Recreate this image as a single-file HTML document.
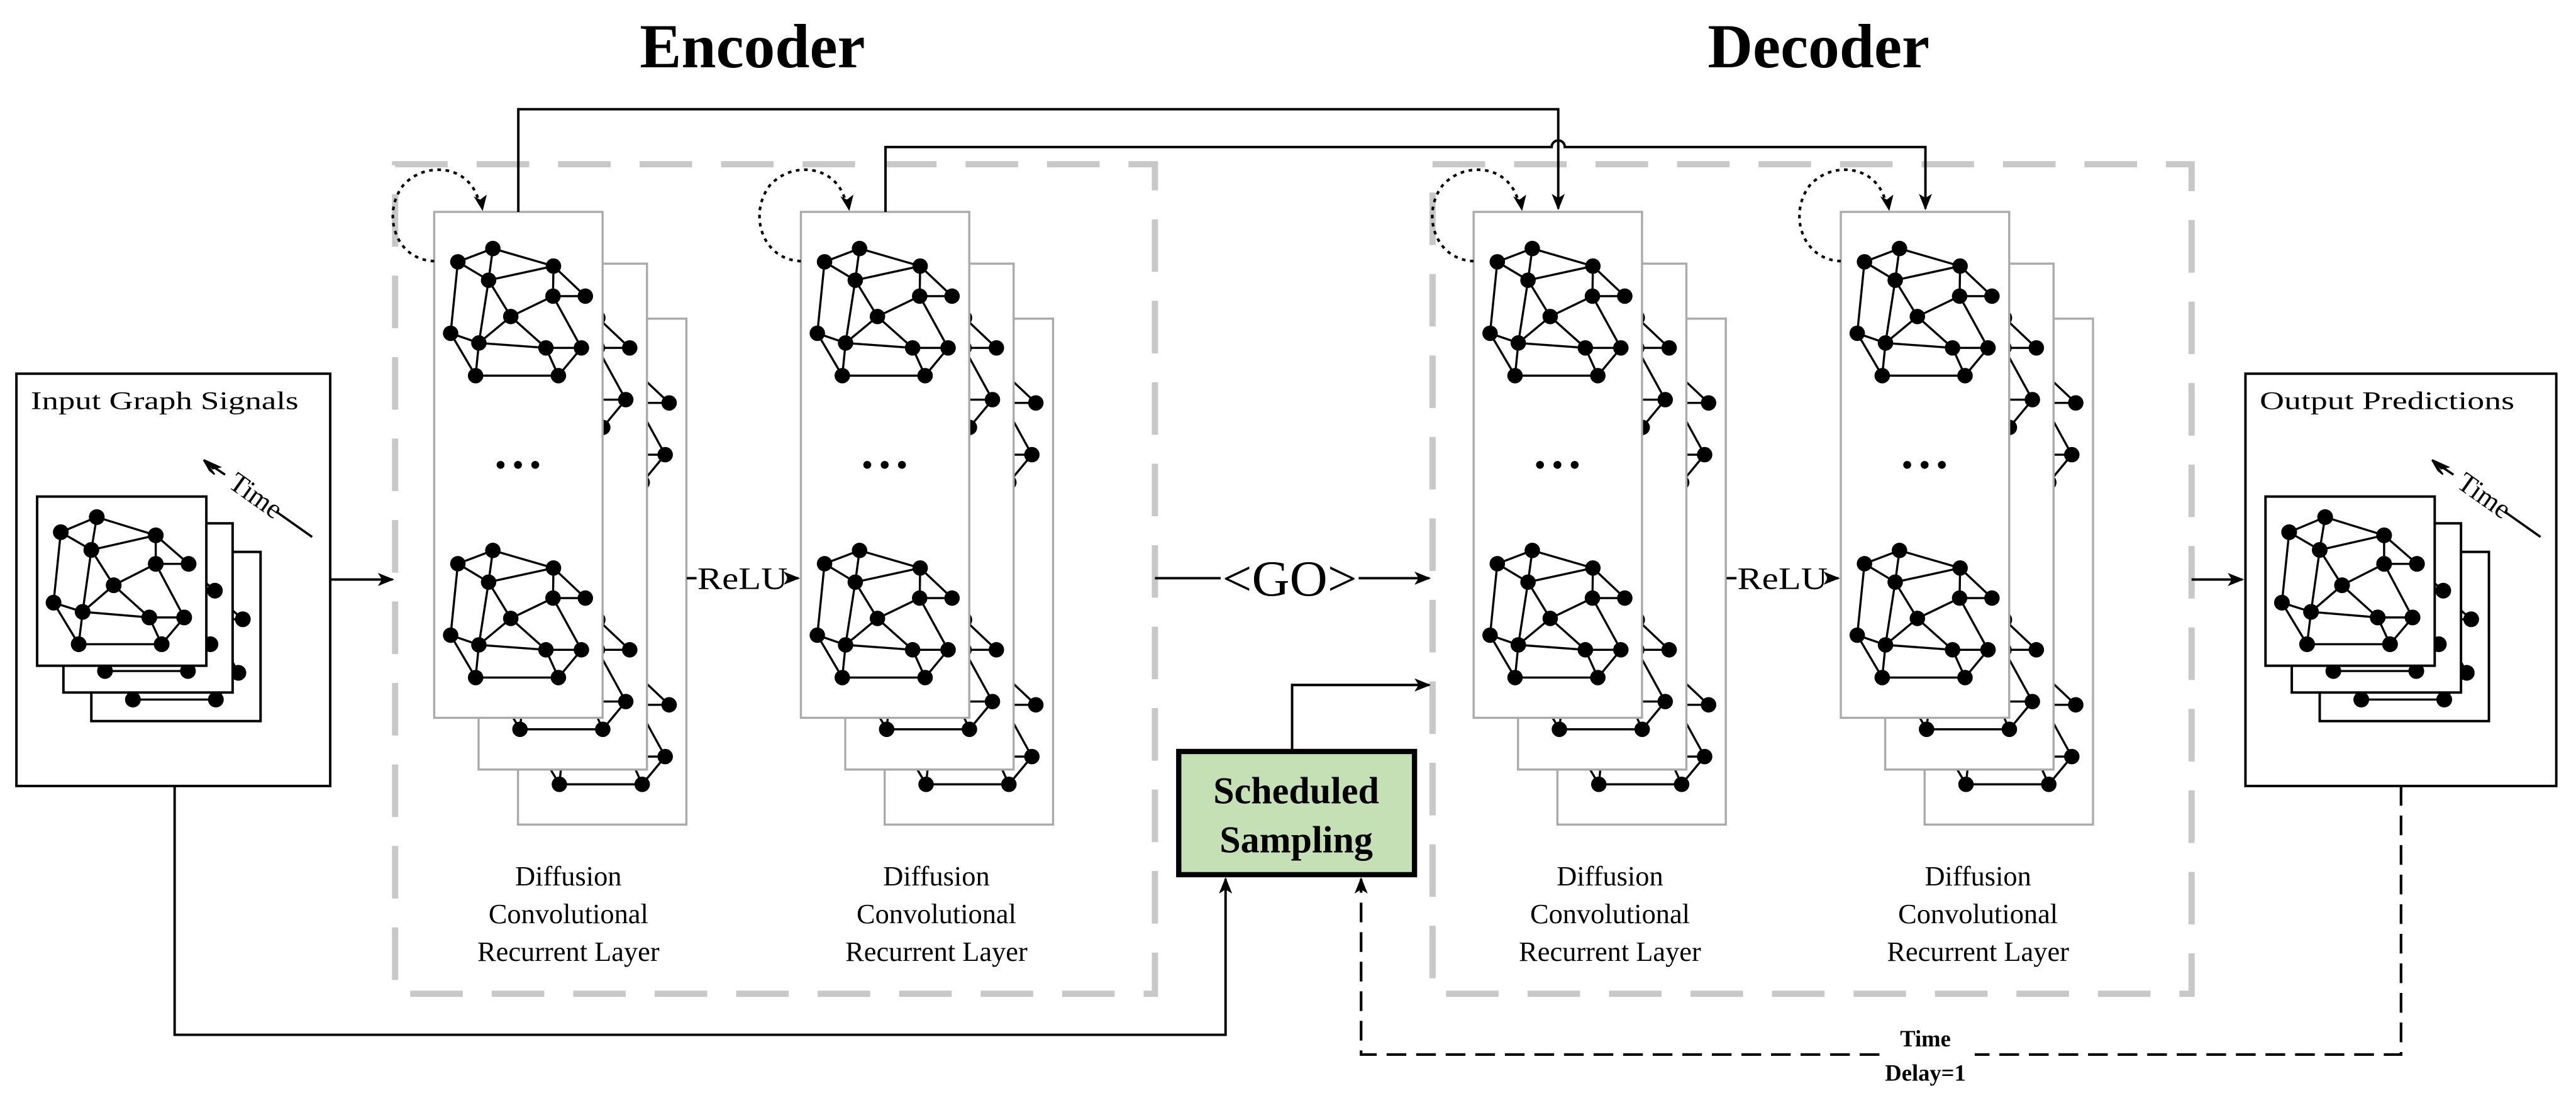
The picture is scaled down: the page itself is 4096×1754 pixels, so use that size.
<!DOCTYPE html>
<html><head><meta charset="utf-8"><style>
html,body{margin:0;padding:0;background:#fff;}
svg{display:block;}
text{font-family:"Liberation Serif",serif;fill:#000;}
</style></head><body>
<svg width="4096" height="1754" viewBox="0 0 1568 671.5" preserveAspectRatio="none" xmlns="http://www.w3.org/2000/svg">
<defs>
<marker id="ar" markerUnits="userSpaceOnUse" markerWidth="12" markerHeight="10" refX="9" refY="4" orient="auto">
<path d="M0,0 L10,4 L0,8 L2.5,4 Z" fill="#000"/>
</marker>
<g id="g1" stroke="#000" stroke-width="1.3" fill="#000">
<path fill="none" d="M14.4,30.4L35.7,22.3L72.6,33M14.4,30.4L33.1,41.6M35.7,22.3L33.1,41.6L72.6,33L72.3,51.3L92,51.3M72.6,33L92,51.3M72.3,51.3L46.6,63.7L33.1,41.6M14.4,30.4L10,73.9M33.1,41.6L27.2,79.8L46.6,63.7L68,82.8L27.2,79.8M72.3,51.3L89.6,82.8L68,82.8M10,73.9L27.2,79.8M10,73.9L25.2,99.7L27.2,79.8M25.2,99.7L75.6,99.7L68,82.8M89.6,82.8L75.6,99.7"/>
<g stroke="none">
<circle cx="14.4" cy="30.4" r="4.7"/><circle cx="35.7" cy="22.3" r="4.7"/><circle cx="72.6" cy="33" r="4.7"/><circle cx="33.1" cy="41.6" r="4.7"/><circle cx="72.3" cy="51.3" r="4.7"/><circle cx="92" cy="51.3" r="4.7"/><circle cx="46.6" cy="63.7" r="4.7"/><circle cx="10" cy="73.9" r="4.7"/><circle cx="27.2" cy="79.8" r="4.7"/><circle cx="68" cy="82.8" r="4.7"/><circle cx="89.6" cy="82.8" r="4.7"/><circle cx="25.2" cy="99.7" r="4.7"/><circle cx="75.6" cy="99.7" r="4.7"/>
</g></g>
<g id="card">
<rect x="0" y="0" width="102.5" height="308" fill="#fff" stroke="#aaa" stroke-width="1.3"/>
<use href="#g1"/>
<use href="#g1" transform="translate(0,183.8)"/>
<circle cx="40.4" cy="154" r="2.4"/><circle cx="51" cy="154" r="2.4"/><circle cx="61.5" cy="154" r="2.4"/>
</g>
<g id="col">
<use href="#card" transform="translate(51,65)"/>
<use href="#card" transform="translate(27,31.5)"/>
<use href="#card"/>
</g>
<g id="g2" stroke="#000" stroke-width="1.3" fill="#000">
<path fill="none" d="M14.4,21.7L36.3,12.5L72.2,23.6M14.4,21.7L33,32.5M36.3,12.5L33,32.5L72.2,23.6L72.2,41L92.2,41M72.2,23.6L92.2,41M72.2,41L46.6,54L33,32.5M14.4,21.7L10,64.6M33,32.5L27.7,70.2L46.6,54L68.3,73.6L27.7,70.2M72.2,41L89.5,73.6L68.3,73.6M10,64.6L27.7,70.2M10,64.6L25.3,89.9L27.7,70.2M25.3,89.9L75.8,89.9L68.3,73.6M89.5,73.6L75.8,89.9"/>
<g stroke="none">
<circle cx="14.4" cy="21.7" r="4.8"/><circle cx="36.3" cy="12.5" r="4.8"/><circle cx="72.2" cy="23.6" r="4.8"/><circle cx="33" cy="32.5" r="4.8"/><circle cx="72.2" cy="41" r="4.8"/><circle cx="92.2" cy="41" r="4.8"/><circle cx="46.6" cy="54" r="4.8"/><circle cx="10" cy="64.6" r="4.8"/><circle cx="27.7" cy="70.2" r="4.8"/><circle cx="68.3" cy="73.6" r="4.8"/><circle cx="89.5" cy="73.6" r="4.8"/><circle cx="25.3" cy="89.9" r="4.8"/><circle cx="75.8" cy="89.9" r="4.8"/>
</g></g>
<g id="scard">
<rect x="0" y="0" width="103" height="103" fill="#fff" stroke="#000" stroke-width="1.5"/>
<use href="#g2"/>
</g>
<g id="stack">
<use href="#scard" transform="translate(33,33.7)"/>
<use href="#scard" transform="translate(16,16.3)"/>
<use href="#scard"/>
<line x1="114.4" y1="-13.3" x2="101.5" y2="-22" stroke="#000" stroke-width="1.4"/>
<path d="M101.4,-22.3 L108,-13.5 L105,-16 Z M101.4,-22.3 L111,-18 L107,-17 Z" fill="#000" stroke="#000" stroke-width="1"/>
<line x1="146" y1="9.5" x2="167.4" y2="24.6" stroke="#000" stroke-width="1.4"/>
<text x="0" y="0" font-size="17" text-anchor="middle" transform="translate(130,4) rotate(35.2)">Time</text>
</g>
<g id="loop">
<path d="M0,159 C-24,158 -32,130 -19,113 C-6,98 21,100 27,122" fill="none" stroke="#000" stroke-width="1.6" stroke-dasharray="2.2,2.8"/>
<path d="M29.5,128.5 L24,119.5 L28,121.5 L32,118.5 Z" fill="#000"/>
</g>
</defs>

<text x="458" y="41" font-size="38" font-weight="bold" text-anchor="middle">Encoder</text>
<text x="1107" y="41" font-size="38" font-weight="bold" text-anchor="middle">Decoder</text>

<rect x="240.5" y="100" width="462.5" height="505" fill="none" stroke="#c8c8c8" stroke-width="3.8" stroke-dasharray="32,17.6"/>
<rect x="872" y="100" width="462" height="505" fill="none" stroke="#c8c8c8" stroke-width="3.8" stroke-dasharray="32,17.6"/>

<use href="#col" transform="translate(264.3,129)"/>
<use href="#col" transform="translate(487.5,129)"/>
<use href="#col" transform="translate(897,129)"/>
<use href="#col" transform="translate(1120.5,129)"/>
<use href="#loop" transform="translate(264.3,0)"/>
<use href="#loop" transform="translate(487.5,0)"/>
<use href="#loop" transform="translate(897,0)"/>
<use href="#loop" transform="translate(1120.5,0)"/>

<path d="M315.5,129 V66.5 H948.5 V127" fill="none" stroke="#000" stroke-width="1.5" marker-end="url(#ar)"/>
<path d="M539,129 V89.5 H944.5 A4,4 0 0 1 952.5,89.5 H1172 V127" fill="none" stroke="#000" stroke-width="1.5" marker-end="url(#ar)"/>

<g font-size="17" text-anchor="middle">
<text x="346" y="539">Diffusion</text><text x="346" y="562">Convolutional</text><text x="346" y="585">Recurrent Layer</text>
<text x="570" y="539">Diffusion</text><text x="570" y="562">Convolutional</text><text x="570" y="585">Recurrent Layer</text>
<text x="980" y="539">Diffusion</text><text x="980" y="562">Convolutional</text><text x="980" y="585">Recurrent Layer</text>
<text x="1204" y="539">Diffusion</text><text x="1204" y="562">Convolutional</text><text x="1204" y="585">Recurrent Layer</text>
</g>

<line x1="418" y1="352" x2="424" y2="352" stroke="#000" stroke-width="1.5"/>
<text x="452" y="358.5" font-size="19" text-anchor="middle" textLength="55" lengthAdjust="spacingAndGlyphs">ReLU</text>
<line x1="479" y1="352" x2="486" y2="352" stroke="#000" stroke-width="1.5" marker-end="url(#ar)"/>
<line x1="1051" y1="352" x2="1057" y2="352" stroke="#000" stroke-width="1.5"/>
<text x="1085" y="358.5" font-size="19" text-anchor="middle" textLength="55" lengthAdjust="spacingAndGlyphs">ReLU</text>
<line x1="1112" y1="352" x2="1119" y2="352" stroke="#000" stroke-width="1.5" marker-end="url(#ar)"/>

<line x1="703" y1="352" x2="743" y2="352" stroke="#000" stroke-width="1.5"/>
<text x="785" y="362.5" font-size="31" text-anchor="middle" textLength="82" lengthAdjust="spacingAndGlyphs">&lt;GO&gt;</text>
<line x1="827" y1="352" x2="870" y2="352" stroke="#000" stroke-width="1.5" marker-end="url(#ar)"/>

<path d="M786.5,457 V417 H870" fill="none" stroke="#000" stroke-width="1.5" marker-end="url(#ar)"/>
<rect x="717.5" y="457.5" width="143.5" height="75" fill="#c5e0b4" stroke="#000" stroke-width="3.2"/>
<text x="789" y="489" font-size="23" font-weight="bold" text-anchor="middle">Scheduled</text>
<text x="789" y="519" font-size="23" font-weight="bold" text-anchor="middle">Sampling</text>

<rect x="10" y="227.5" width="191" height="251" fill="#fff" stroke="#000" stroke-width="1.5"/>
<text x="18.7" y="249" font-size="15.5" textLength="163" lengthAdjust="spacingAndGlyphs">Input Graph Signals</text>
<use href="#stack" transform="translate(22.6,302.3)"/>
<line x1="201" y1="352.8" x2="239" y2="352.8" stroke="#000" stroke-width="1.5" marker-end="url(#ar)"/>

<rect x="1366.8" y="227.5" width="189.2" height="251" fill="#fff" stroke="#000" stroke-width="1.5"/>
<text x="1375.5" y="249" font-size="15.5" textLength="155" lengthAdjust="spacingAndGlyphs">Output Predictions</text>
<use href="#stack" transform="translate(1379,302.3)"/>
<line x1="1334" y1="352.8" x2="1365" y2="352.8" stroke="#000" stroke-width="1.5" marker-end="url(#ar)"/>

<path d="M106.3,478.5 V630 H746 V535" fill="none" stroke="#000" stroke-width="1.5" marker-end="url(#ar)"/>
<path d="M1461.5,478.5 V642 H1202" fill="none" stroke="#000" stroke-width="1.6" stroke-dasharray="12,6"/>
<path d="M1144,642 H828.5 V535" fill="none" stroke="#000" stroke-width="1.6" stroke-dasharray="12,6" marker-end="url(#ar)"/>
<text x="1172" y="637" font-size="14" font-weight="bold" text-anchor="middle">Time</text>
<text x="1172" y="658" font-size="14" font-weight="bold" text-anchor="middle">Delay=1</text>
</svg>
</body></html>
